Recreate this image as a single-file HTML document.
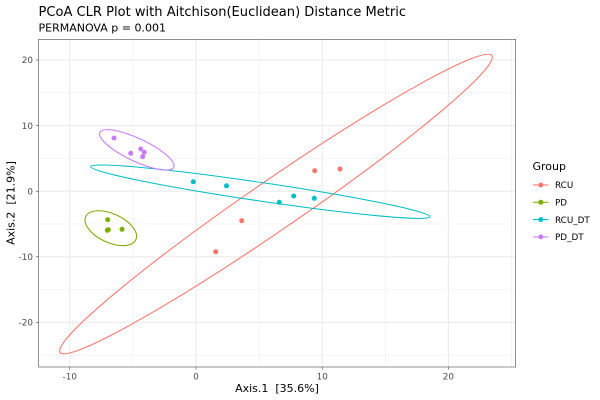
<!DOCTYPE html>
<html>
<head>
<meta charset="utf-8">
<style>
html,body{margin:0;padding:0;background:#fff;}
svg{display:block;}
text{font-family:"DejaVu Sans","Liberation Sans",sans-serif;}
</style>
</head>
<body>
<svg width="600" height="400" viewBox="0 0 600 400" xmlns="http://www.w3.org/2000/svg">
<rect x="0" y="0" width="600" height="400" fill="#fff"/>
<!-- title -->
<text x="38.5" y="16" font-size="13.05" fill="#000">PCoA CLR Plot with Aitchison(Euclidean) Distance Metric</text>
<text x="38.5" y="31.5" font-size="11" fill="#000">PERMANOVA p = 0.001</text>

<!-- panel -->
<rect x="38.5" y="39.3" width="477.2" height="327.7" fill="#fff"/>
<g stroke="#EBEBEB" stroke-width="0.53">
<line x1="132.9" y1="39.3" x2="132.9" y2="367"/>
<line x1="259.1" y1="39.3" x2="259.1" y2="367"/>
<line x1="385.3" y1="39.3" x2="385.3" y2="367"/>
<line x1="511.5" y1="39.3" x2="511.5" y2="367"/>
<line x1="38.5" y1="92.8" x2="515.7" y2="92.8"/>
<line x1="38.5" y1="158.4" x2="515.7" y2="158.4"/>
<line x1="38.5" y1="224" x2="515.7" y2="224"/>
<line x1="38.5" y1="289.6" x2="515.7" y2="289.6"/>
<line x1="38.5" y1="355.2" x2="515.7" y2="355.2"/>
</g>
<g stroke="#EBEBEB" stroke-width="1.07">
<line x1="69.8" y1="39.3" x2="69.8" y2="367"/>
<line x1="196" y1="39.3" x2="196" y2="367"/>
<line x1="322.2" y1="39.3" x2="322.2" y2="367"/>
<line x1="448.4" y1="39.3" x2="448.4" y2="367"/>
<line x1="38.5" y1="60" x2="515.7" y2="60"/>
<line x1="38.5" y1="125.6" x2="515.7" y2="125.6"/>
<line x1="38.5" y1="191.2" x2="515.7" y2="191.2"/>
<line x1="38.5" y1="256.8" x2="515.7" y2="256.8"/>
<line x1="38.5" y1="322.4" x2="515.7" y2="322.4"/>
</g>

<!-- ellipses -->
<g fill="none" stroke-width="1.07">
<ellipse cx="276" cy="204" rx="262" ry="24.7" transform="rotate(-34.5 276 204)" stroke="#F8766D"/>
<ellipse cx="110.8" cy="228.2" rx="27.6" ry="14.4" transform="rotate(24.8 110.8 228.2)" stroke="#7CAE00"/>
<ellipse cx="260.3" cy="191.7" rx="171.5" ry="9.3" transform="rotate(8.4 260.3 191.7)" stroke="#00BFC4"/>
<ellipse cx="136.8" cy="149.9" rx="40.8" ry="11.4" transform="rotate(25.2 136.8 149.9)" stroke="#C77CFF"/>
</g>

<!-- points -->
<g fill="#F8766D">
<circle cx="314.7" cy="170.7" r="2.5"/>
<circle cx="340" cy="169" r="2.5"/>
<circle cx="241.7" cy="220.7" r="2.5"/>
<circle cx="215.7" cy="251.7" r="2.5"/>
</g>
<g fill="#7CAE00">
<circle cx="107.7" cy="219.7" r="2.5"/>
<circle cx="108.3" cy="229.7" r="2.5"/>
<circle cx="107.3" cy="230.3" r="2.5"/>
<circle cx="122" cy="229.3" r="2.5"/>
</g>
<g fill="#00BFC4">
<circle cx="193.3" cy="181.8" r="2.5"/>
<circle cx="226.5" cy="185.8" r="2.5"/>
<circle cx="279.3" cy="202.3" r="2.5"/>
<circle cx="293.7" cy="196" r="2.5"/>
<circle cx="314.3" cy="198.3" r="2.5"/>
</g>
<g fill="#C77CFF">
<circle cx="114" cy="138" r="2.5"/>
<circle cx="130.7" cy="153.3" r="2.5"/>
<circle cx="140.7" cy="149" r="2.5"/>
<circle cx="144.3" cy="152.3" r="2.5"/>
<circle cx="142.7" cy="156.7" r="2.5"/>
</g>

<!-- panel border -->
<rect x="38.5" y="39.3" width="477.2" height="327.7" fill="none" stroke="#333333" stroke-width="0.53"/>

<!-- ticks -->
<g stroke="#333333" stroke-width="0.53">
<line x1="69.8" y1="367" x2="69.8" y2="369.8"/>
<line x1="196" y1="367" x2="196" y2="369.8"/>
<line x1="322.2" y1="367" x2="322.2" y2="369.8"/>
<line x1="448.4" y1="367" x2="448.4" y2="369.8"/>
<line x1="35.7" y1="60" x2="38.5" y2="60"/>
<line x1="35.7" y1="125.6" x2="38.5" y2="125.6"/>
<line x1="35.7" y1="191.2" x2="38.5" y2="191.2"/>
<line x1="35.7" y1="256.8" x2="38.5" y2="256.8"/>
<line x1="35.7" y1="322.4" x2="38.5" y2="322.4"/>
</g>
<g font-size="8.8" fill="#4D4D4D">
<text x="69.8" y="379.3" text-anchor="middle">-10</text>
<text x="196" y="379.3" text-anchor="middle">0</text>
<text x="322.2" y="379.3" text-anchor="middle">10</text>
<text x="448.4" y="379.3" text-anchor="middle">20</text>
<text x="33" y="63.2" text-anchor="end">20</text>
<text x="33" y="128.8" text-anchor="end">10</text>
<text x="33" y="194.4" text-anchor="end">0</text>
<text x="33" y="260" text-anchor="end">-10</text>
<text x="33" y="325.6" text-anchor="end">-20</text>
</g>

<!-- axis titles -->
<text x="277" y="392" font-size="11" fill="#000" text-anchor="middle" style="white-space:pre" xml:space="preserve">Axis.1  [35.6%]</text>
<text transform="translate(14.3 203) rotate(-90)" x="0" y="0" font-size="11" fill="#000" text-anchor="middle" style="white-space:pre" xml:space="preserve">Axis.2  [21.9%]</text>

<!-- legend -->
<text x="532.5" y="170" font-size="11" fill="#000">Group</text>
<g stroke-width="1.07">
<line x1="533" y1="185" x2="548.5" y2="185" stroke="#F8766D"/>
<line x1="533" y1="202.3" x2="548.5" y2="202.3" stroke="#7CAE00"/>
<line x1="533" y1="219.6" x2="548.5" y2="219.6" stroke="#00BFC4"/>
<line x1="533" y1="236.9" x2="548.5" y2="236.9" stroke="#C77CFF"/>
</g>
<circle cx="540.8" cy="185" r="2.5" fill="#F8766D"/>
<circle cx="540.8" cy="202.3" r="2.5" fill="#7CAE00"/>
<circle cx="540.8" cy="219.6" r="2.5" fill="#00BFC4"/>
<circle cx="540.8" cy="236.9" r="2.5" fill="#C77CFF"/>
<g font-size="8.8" fill="#000">
<text x="555" y="188.2">RCU</text>
<text x="555" y="205.5">PD</text>
<text x="555" y="222.8">RCU_DT</text>
<text x="555" y="240.1">PD_DT</text>
</g>
</svg>
</body>
</html>
